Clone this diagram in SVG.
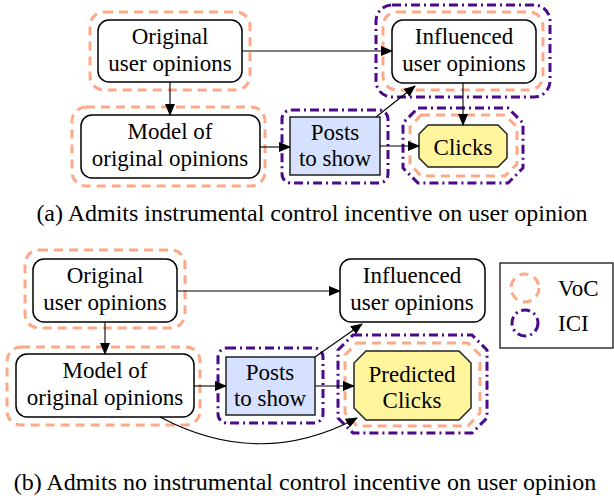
<svg xmlns="http://www.w3.org/2000/svg" width="614" height="500" viewBox="0 0 614 500">
<defs>
<marker id="ah" markerWidth="12" markerHeight="10" refX="11" refY="5" orient="auto" markerUnits="userSpaceOnUse">
<path d="M0,0 L12,5 L0,10 Z" fill="#000"/>
</marker>
<style>
.node{fill:#fff;stroke:#000;stroke-width:1.5}
.posts{fill:#d6e0ff;stroke:#222;stroke-width:1.5}
.clicks{fill:#fff59d;stroke:#222;stroke-width:1.5}
.voc{fill:none;stroke:#fda987;stroke-width:3;stroke-dasharray:9 6}
.ici{fill:none;stroke:#4b0a8a;stroke-width:3;stroke-dasharray:9 4 2 4}
.lbl{font-size:23px;text-anchor:middle;fill:#000}
.cap{font-size:24px;text-anchor:middle;fill:#000}
.edge{fill:none;stroke:#000;stroke-width:1.1;marker-end:url(#ah)}
</style>
</defs>
<rect width="614" height="500" fill="#fff"/>
<g font-family="Liberation Serif">

<g id="a-original">
<rect class="voc" x="90" y="12" width="160" height="78" rx="14"/>
<rect class="node" x="98" y="20" width="144" height="62" rx="11"/>
<text class="lbl" x="170" y="44">Original</text>
<text class="lbl" x="170" y="71">user opinions</text>
</g>
<g id="a-model">
<rect class="voc" x="72" y="107" width="193" height="79" rx="14"/>
<rect class="node" x="81" y="115" width="179" height="63" rx="11"/>
<text class="lbl" x="170" y="139">Model of</text>
<text class="lbl" x="170" y="166">original opinions</text>
</g>
<g id="a-posts">
<rect class="ici" x="282" y="110" width="106" height="73" rx="9"/>
<rect class="posts" x="290" y="117" width="90" height="58"/>
<text class="lbl" x="335" y="140">Posts</text>
<text class="lbl" x="335" y="166">to show</text>
</g>
<g id="a-influenced">
<rect class="ici" x="376" y="5" width="174" height="92" rx="16"/>
<rect class="voc" x="383" y="12" width="160" height="78" rx="14"/>
<rect class="node" x="392" y="20" width="144" height="63" rx="11"/>
<text class="lbl" x="464" y="44">Influenced</text>
<text class="lbl" x="464" y="71">user opinions</text>
</g>
<g id="a-clicks">
<path class="ici" d="M418,108 L508,108 L523,123 L523,168 L508,183 L418,183 L403,168 L403,123 Z"/>
<path class="voc" d="M421,115 L505,115 L517,127 L517,164 L505,176 L421,176 L410,164 L410,127 Z"/>
<path class="clicks" d="M428,125 L498,125 L507,134 L507,158 L498,167 L428,167 L419,158 L419,134 Z"/>
<text class="lbl" x="463" y="155">Clicks</text>
</g>

<g id="b-original">
<rect class="voc" x="25" y="250" width="160" height="78" rx="14"/>
<rect class="node" x="33" y="259" width="144" height="63" rx="11"/>
<text class="lbl" x="105" y="283">Original</text>
<text class="lbl" x="105" y="310">user opinions</text>
</g>
<g id="b-model">
<rect class="voc" x="7" y="347" width="193" height="78" rx="14"/>
<rect class="node" x="16" y="354" width="178" height="63" rx="11"/>
<text class="lbl" x="105" y="378">Model of</text>
<text class="lbl" x="105" y="405">original opinions</text>
</g>
<g id="b-posts">
<rect class="ici" x="218" y="348" width="105" height="75" rx="9"/>
<rect class="posts" x="226" y="357" width="89" height="58"/>
<text class="lbl" x="270" y="380">Posts</text>
<text class="lbl" x="270" y="406">to show</text>
</g>
<g id="b-influenced">
<rect class="node" x="340" y="259" width="145" height="63" rx="11"/>
<text class="lbl" x="412" y="283">Influenced</text>
<text class="lbl" x="412" y="310">user opinions</text>
</g>
<g id="b-predicted">
<path class="ici" d="M353,335 L472,335 L487,350 L487,418 L472,433 L353,433 L338,418 L338,350 Z"/>
<path class="voc" d="M357,343 L468,343 L480,355 L480,413 L468,426 L357,426 L345,413 L345,355 Z"/>
<path class="clicks" d="M366,351 L459,351 L471,363 L471,408 L459,420 L366,420 L354,408 L354,363 Z"/>
<text class="lbl" x="412" y="382">Predicted</text>
<text class="lbl" x="412" y="408">Clicks</text>
</g>

<g id="legend">
<rect x="500" y="263" width="113" height="85" fill="#fff" stroke="#000" stroke-width="1.2"/>
<circle class="voc" cx="525" cy="288" r="14"/>
<circle class="ici" cx="525" cy="323" r="13"/>
<text x="558" y="296" font-size="23">VoC</text>
<text x="558" y="331" font-size="23">ICI</text>
</g>

<g id="connectors">
<path class="edge" d="M242,51 L392,51"/>
<path class="edge" d="M170,82 L170,115"/>
<path class="edge" d="M260,147 L290,147"/>
<path class="edge" d="M376,117 L415,86"/>
<path class="edge" d="M463,83 L463,125"/>
<path class="edge" d="M380,146 L419,146"/>
<path class="edge" d="M177,291 L340,291"/>
<path class="edge" d="M105,322 L105,354"/>
<path class="edge" d="M194,386 L226,386"/>
<path class="edge" d="M315,357 L362,324"/>
<path class="edge" d="M315,386 L354,386"/>
<path class="edge" d="M160,417 Q260,470 357,418"/>
</g>

<text class="cap" x="312" y="221">(a) Admits instrumental control incentive on user opinion</text>
<text class="cap" x="305" y="490">(b) Admits no instrumental control incentive on user opinion</text>
</g>
</svg>
